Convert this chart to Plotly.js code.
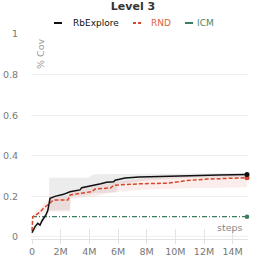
<!DOCTYPE html>
<html>
<head>
<meta charset="utf-8">
<script src="https://cdn.plot.ly/plotly-3.0.1.min.js"></script>
<style>html,body{margin:0;padding:0;background:#fff;}#chart{width:266px;height:263px;}</style>
</head>
<body>
<div id="chart"></div>
<script>
// steps in millions
const rbX = [0, 0.2, 0.4, 0.56, 0.7, 0.9, 0.98, 1.1, 1.2, 1.26, 1.6, 2.2, 2.65, 3.35, 3.47, 4.28, 4.8, 5.2, 5.7, 5.8, 6.5, 7.5, 9, 11, 13, 15];
const rbY = [0.021, 0.05, 0.067, 0.059, 0.08, 0.1, 0.11, 0.13, 0.17, 0.19, 0.2, 0.21, 0.223, 0.232, 0.243, 0.253, 0.262, 0.27, 0.272, 0.28, 0.29, 0.296, 0.3, 0.302, 0.305, 0.308];
const rbBandX = [0, 0.5, 1.0, 1.19, 1.2, 2.65, 2.7, 3.9, 4.3, 5.9, 6.0, 8, 11, 15];
const rbBandHi = [0.025, 0.07, 0.12, 0.15, 0.292, 0.292, 0.292, 0.292, 0.309, 0.31, 0.31, 0.312, 0.313, 0.315];
const rbBandLo = [0.015, 0.05, 0.09, 0.13, 0.133, 0.133, 0.2, 0.205, 0.215, 0.22, 0.26, 0.28, 0.29, 0.295];

const rndX = [0, 0.05, 0.3, 0.6, 0.8, 1.0, 1.26, 1.5, 2.5, 2.65, 3.35, 4.17, 4.4, 5.5, 5.7, 7.5, 9.5, 10.8, 12.2, 15];
const rndY = [0.03, 0.1, 0.11, 0.125, 0.141, 0.152, 0.166, 0.182, 0.182, 0.207, 0.215, 0.223, 0.236, 0.242, 0.255, 0.262, 0.265, 0.278, 0.285, 0.292];
const rndBandX = [0, 0.05, 1.0, 1.26, 2.65, 2.7, 4.3, 5.7, 8, 11, 15];
const rndBandHi = [0.04, 0.11, 0.17, 0.2, 0.2, 0.23, 0.25, 0.27, 0.29, 0.3, 0.308];
const rndBandLo = [0.02, 0.09, 0.125, 0.125, 0.125, 0.19, 0.2, 0.22, 0.235, 0.24, 0.245];

const icmX = [0, 3, 6, 9, 12, 15];
const icmY = [0.1, 0.1, 0.1, 0.1, 0.1, 0.1];

const xTickVals = [0, 2, 4, 6, 8, 10, 12, 14];
const xTickText = ['0', '2M', '4M', '6M', '8M', '10M', '12M', '14M'];
const yTickVals = [0, 0.2, 0.4, 0.6, 0.8, 1];
const yTickText = ['0', '0.2', '0.4', '0.6', '0.8', '1'];

const seriesNames = ['RbExplore', 'RND', 'ICM'];
const colRb = '#111111', colRnd = '#d8472b', colIcm = '#3b7d5c';

function band(x, hi, lo, color) {
  return {x: x.concat(x.slice().reverse()), y: hi.concat(lo.slice().reverse()),
    fill: 'toself', fillcolor: color, line: {width: 0}, mode: 'lines', hoverinfo: 'skip', showlegend: false};
}
const last = a => [a[a.length - 1]];

const traces = [
  band(rbBandX, rbBandHi, rbBandLo, 'rgba(160,160,160,0.2)'),
  band(rndBandX, rndBandHi, rndBandLo, 'rgba(225,110,90,0.12)'),
  {x: icmX, y: icmY, mode: 'lines', line: {color: colIcm, width: 1.4, dash: '5px,2px,1px,2px'}, showlegend: false},
  {x: rndX, y: rndY, mode: 'lines', line: {color: colRnd, width: 1.5, dash: '4px,2px'}, showlegend: false},
  {x: rbX, y: rbY, mode: 'lines', line: {color: colRb, width: 1.5}, showlegend: false},
  {x: last(icmX), y: last(icmY), mode: 'markers', marker: {color: colIcm, size: 4.5}, cliponaxis: false, showlegend: false},
  {x: last(rndX), y: last(rndY), mode: 'markers', marker: {color: colRnd, size: 5}, cliponaxis: false, showlegend: false},
  {x: last(rbX), y: last(rbY), mode: 'markers', marker: {color: colRb, size: 5}, cliponaxis: false, showlegend: false},
  {x: [], y: [], xaxis: 'x2', showlegend: false}
];

const W = 217, H = 205, L = 31, B = 239;
const px = v => (v - L) / W;
const py = v => (B - v) / H;
const legY = py(23);

const font = 'DejaVu Sans, sans-serif';
const layout = {
  width: 266, height: 263,
  margin: {l: 31, r: 18, t: 34, b: 24},
  paper_bgcolor: '#fff', plot_bgcolor: '#fff',
  showlegend: false,
  font: {family: font, size: 9.5, color: '#777'},
  title: {text: '<b>Level 3</b>', font: {family: font, size: 11, color: '#333'}, x: 0.5, xanchor: 'center', y: 1 - 6/263, yanchor: 'middle'},
  xaxis: {range: [-0.07, 15.07], tickvals: xTickVals, ticktext: xTickText, ticks: 'outside', ticklen: 4,
    tickcolor: '#e3e3e3', showline: true, linecolor: '#e3e3e3', linewidth: 1, showgrid: false, zeroline: false,
    tickfont: {size: 9.5, color: '#777'}},
  xaxis2: {overlaying: 'x', matches: 'x', range: [-0.07, 15.07], tickvals: xTickVals, ticks: 'inside', ticklen: 10,
    tickcolor: '#e3e3e3', showticklabels: false, showgrid: false, zeroline: false, showline: false},
  yaxis: {range: [-0.01, 1.0], tickvals: yTickVals, ticktext: yTickText, showgrid: true, gridcolor: '#efefef',
    zeroline: false, showline: false, ticks: '', ticklabelstandoff: 12, tickfont: {size: 9.5, color: '#777'}},
  shapes: [
    {type: 'line', xref: 'paper', yref: 'paper', x0: px(54), x1: px(62), y0: legY, y1: legY, line: {color: colRb, width: 2}},
    {type: 'line', xref: 'paper', yref: 'paper', x0: px(133), x1: px(142), y0: legY, y1: legY, line: {color: colRnd, width: 2, dash: '3px,2px'}},
    {type: 'line', xref: 'paper', yref: 'paper', x0: px(185), x1: px(193), y0: legY, y1: legY, line: {color: colIcm, width: 2}}
  ],
  annotations: [
    {text: seriesNames[0], xref: 'paper', yref: 'paper', x: px(70.5), y: legY, xanchor: 'left', yanchor: 'middle', showarrow: false, font: {family: font, size: 9, color: '#111'}},
    {text: seriesNames[1], xref: 'paper', yref: 'paper', x: px(148.5), y: legY, xanchor: 'left', yanchor: 'middle', showarrow: false, font: {family: font, size: 9, color: '#e0603f'}},
    {text: seriesNames[2], xref: 'paper', yref: 'paper', x: px(195), y: legY, xanchor: 'left', yanchor: 'middle', showarrow: false, font: {family: font, size: 9, color: '#4a8a6a'}},
    {text: '% Cov', xref: 'paper', yref: 'paper', x: px(40), y: py(54), xanchor: 'center', yanchor: 'middle', textangle: -90, showarrow: false, font: {family: font, size: 9.5, color: '#999'}},
    {text: 'steps', xref: 'paper', yref: 'paper', x: px(229.5), y: py(227.5), xanchor: 'center', yanchor: 'middle', showarrow: false, font: {family: font, size: 9.5, color: '#888'}}
  ]
};

Plotly.newPlot('chart', traces, layout, {displayModeBar: false, staticPlot: true});
</script>
</body>
</html>
